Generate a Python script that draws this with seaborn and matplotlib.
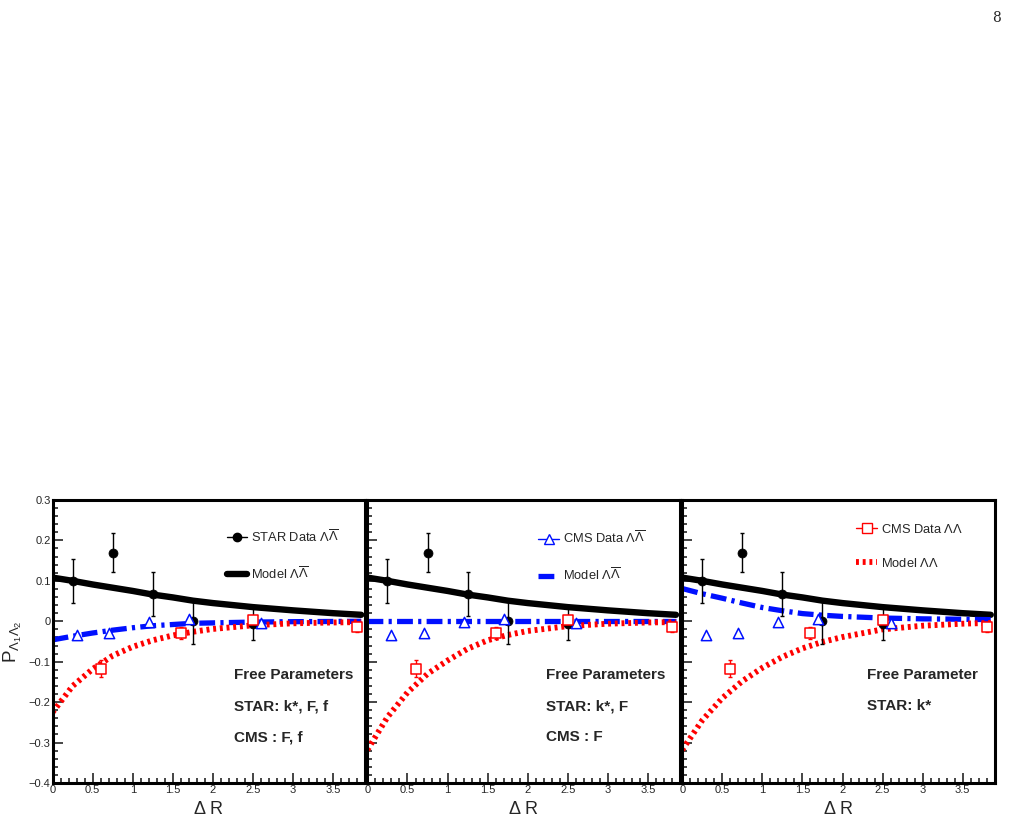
import numpy as np
import pandas as pd
import matplotlib.pyplot as plt
from matplotlib.lines import Line2D
from matplotlib.ticker import MultipleLocator
import seaborn as sns

# data points
star_x = [0.25, 0.75, 1.25, 1.75, 2.5]
star_y = [0.100, 0.170, 0.068, 0.000, -0.006]
star_err = [0.055, 0.048, 0.054, 0.056, 0.041]

cms_lal_x = [0.3, 0.7, 1.2, 1.7, 2.6]
cms_lal_y = [-0.034, -0.030, -0.002, 0.006, -0.004]

cms_ll_x = [0.6, 1.6, 2.5, 3.8]
cms_ll_y = [-0.117, -0.029, 0.003, -0.014]
cms_ll_err = [0.020, 0.015, 0.006, 0.012]

# model curves (sampled by eye)
model_x = [0, 0.25, 0.5, 0.75, 1.0, 1.25, 1.5, 1.75, 2.0, 2.5, 3.0, 3.5, 3.85]
black_model = [0.108, 0.100, 0.091, 0.083, 0.075, 0.066, 0.059, 0.051, 0.045, 0.035, 0.027, 0.020, 0.016]

blue_model_1 = [-0.046, -0.037, -0.029, -0.022, -0.016, -0.011, -0.008, -0.005, -0.004, -0.002, -0.001, -0.0005, 0.0]
blue_model_2 = [0.0] * 13
blue_model_3 = [0.081, 0.068, 0.057, 0.045, 0.034, 0.026, 0.019, 0.015, 0.012, 0.008, 0.006, 0.005, 0.004]

red_model_1 = [-0.225, -0.160, -0.118, -0.085, -0.063, -0.047, -0.035, -0.026, -0.019, -0.010, -0.005, -0.003, -0.002]
red_model_2 = [-0.318, -0.237, -0.176, -0.130, -0.097, -0.068, -0.047, -0.034, -0.024, -0.012, -0.006, -0.003, -0.002]
red_model_3 = [-0.318, -0.245, -0.190, -0.148, -0.115, -0.088, -0.067, -0.051, -0.039, -0.020, -0.011, -0.006, -0.004]

panel_text = [["Free Parameters", "STAR: k*, F, f", "CMS : F, f"],
              ["Free Parameters", "STAR: k*, F", "CMS : F"],
              ["Free Parameter", "STAR: k*"]]
text_x = [0.58, 0.57, 0.59]

sns.set_style("ticks")
plt.rcParams['font.family'] = ['Liberation Sans', 'DejaVu Sans']
plt.rcParams['mathtext.fontset'] = 'custom'
plt.rcParams['mathtext.rm'] = 'Liberation Sans'
plt.rcParams['mathtext.it'] = 'Liberation Sans:italic'

blue_ls = (0, (3.0, 1.0, 0.6, 1.0))
red_ls = (0, (0.5, 0.65))

fig, axes = plt.subplots(1, 3, figsize=(10.12, 8.23), dpi=100, sharey=True)
fig.subplots_adjust(left=0.052, right=0.983, bottom=0.0486, top=0.3925, wspace=0.007)

blues = [blue_model_1, blue_model_2, blue_model_3]
reds = [red_model_1, red_model_2, red_model_3]

for i, ax in enumerate(axes):
    df = pd.DataFrame({"x": model_x, "black": black_model, "blue": blues[i], "red": reds[i]})
    sns.lineplot(data=df, x="x", y="black", ax=ax, color="black", lw=4.6, estimator=None)
    sns.lineplot(data=df, x="x", y="blue", ax=ax, color="#0010ff", lw=3.8, estimator=None,
                 linestyle=blue_ls, dash_capstyle="butt")
    sns.lineplot(data=df, x="x", y="red", ax=ax, color="#ff0000", lw=4.2, estimator=None,
                 linestyle=red_ls, dash_capstyle="butt")

    ax.errorbar(star_x, star_y, yerr=star_err, fmt="none", ecolor="black", elinewidth=1, capsize=1.5, zorder=4)
    sns.scatterplot(x=star_x, y=star_y, ax=ax, color="black", s=42, marker="o", edgecolor="black", zorder=5)
    sns.scatterplot(x=cms_lal_x, y=cms_lal_y, ax=ax, marker="^", s=55, facecolor="white",
                    edgecolor="#0010ff", linewidth=1.1, zorder=5)
    ax.errorbar(cms_ll_x, cms_ll_y, yerr=cms_ll_err, fmt="none", ecolor="red", elinewidth=1, capsize=1.5, zorder=4)
    sns.scatterplot(x=cms_ll_x, y=cms_ll_y, ax=ax, marker="s", s=50, facecolor="white",
                    edgecolor="red", linewidth=1.1, zorder=5)

    ax.set_xlim(0, 3.9)
    ax.set_ylim(-0.4, 0.3)
    ax.xaxis.set_major_locator(MultipleLocator(0.5))
    ax.xaxis.set_minor_locator(MultipleLocator(0.1))
    ax.yaxis.set_major_locator(MultipleLocator(0.1))
    ax.yaxis.set_minor_locator(MultipleLocator(0.02))
    ax.xaxis.set_major_formatter(plt.FuncFormatter(lambda v, p: f"{v:g}"))
    ax.yaxis.set_major_formatter(plt.FuncFormatter(lambda v, p: f"{v:g}".replace("-", "\u2212")))
    ax.tick_params(which="both", direction="in", top=False, right=False, labelsize=8, pad=1.5, width=1.2)
    ax.tick_params(which="major", length=7)
    ax.tick_params(which="minor", length=3.5)
    for sp in ax.spines.values():
        sp.set_visible(True)
        sp.set_linewidth(2.2)
        sp.set_color("black")
    ax.set_xlabel("\u0394 R", fontsize=13, labelpad=4)
    ax.set_ylabel("")

    for j, t in enumerate(panel_text[i]):
        ax.text(text_x[i], 0.382 - j * 0.11, t, transform=ax.transAxes, fontsize=11,
                fontweight="bold", va="center")

axes[0].set_ylabel(r"P$_{\Lambda_1\Lambda_2}$", fontsize=13.5, labelpad=3)

lab_bar = r"$\Lambda\overline{\Lambda}$"
lab_ll = r"$\Lambda\Lambda$"
leg_specs = [
    [Line2D([], [], color="black", marker="o", ms=6, lw=1), Line2D([], [], color="black", lw=4.6),
     "STAR Data " + lab_bar, "Model " + lab_bar, (0.52, 0.94)],
    [Line2D([], [], color="#0010ff", marker="^", ms=7, mfc="white", lw=1),
     Line2D([], [], color="#0010ff", lw=3.8, linestyle=blue_ls),
     "CMS Data " + lab_bar, "Model " + lab_bar, (0.51, 0.935)],
    [Line2D([], [], color="red", marker="s", ms=6.5, mfc="white", lw=1),
     Line2D([], [], color="red", lw=4.2, linestyle=red_ls),
     "CMS Data " + lab_ll, "Model " + lab_ll, (0.52, 0.96)],
]
for ax, (h1, h2, l1, l2, anchor) in zip(axes, leg_specs):
    ax.legend([h1, h2], [l1, l2], loc="upper left", bbox_to_anchor=anchor, frameon=False,
              fontsize=9.3, labelspacing=1.6, handlelength=1.6, handletextpad=0.3)

fig.text(0.989, 0.978, "8", family="DejaVu Serif", fontsize=10, ha="right", va="center")

fig.savefig("out.png", dpi=100)
